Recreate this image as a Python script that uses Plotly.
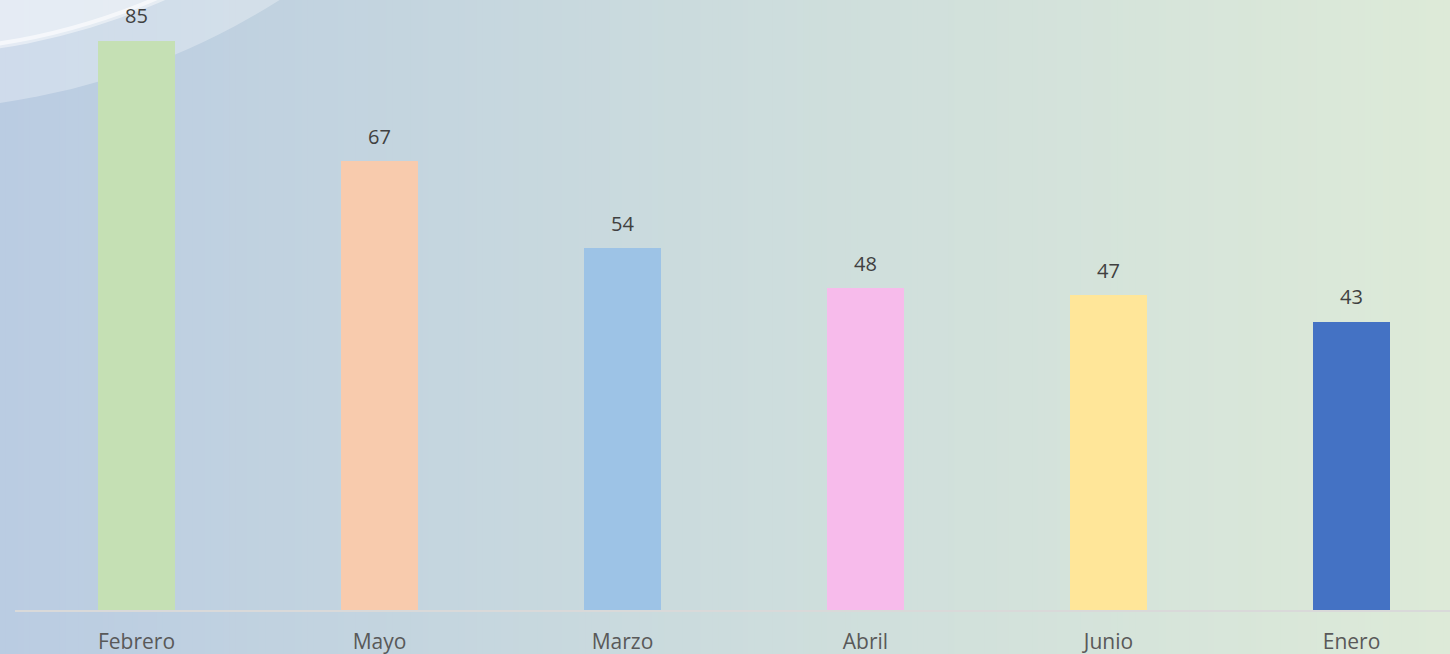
import plotly.graph_objects as go

categories = ["Febrero", "Mayo", "Marzo", "Abril", "Junio", "Enero"]
values = [85, 67, 54, 48, 47, 43]
bar_colors = ["#c5e0b4", "#f8cbad", "#9dc3e6", "#f7bbeb", "#ffe699", "#4472c4"]

W, H = 1450, 654
ML, MR, MT, MB = 15, 0, 7, 44
PW, PH = W - ML - MR, H - MT - MB

def px_to_paper(px, py):
    return (px - ML) / PW, (H - MB - py) / PH

fig = go.Figure()
fig.add_trace(go.Bar(
    x=list(range(len(categories))), y=values,
    marker=dict(color=bar_colors, line=dict(width=0)),
    width=0.317, showlegend=False, hoverinfo="skip",
))

for i, v in enumerate(values):
    fig.add_annotation(x=i, y=v, text=str(v), showarrow=False, yshift=25,
                       font=dict(family="Open Sans", size=20, color="#404040"))

shapes = []
# background gradient stripes
c0 = (186, 204, 226)
c1 = (204, 220, 221)
c2 = (221, 234, 216)
N = 240
for k in range(N):
    t = k / (N - 1)
    if t < 0.5:
        a, b, u = c0, c1, t / 0.5
    else:
        a, b, u = c1, c2, (t - 0.5) / 0.5
    col = tuple(a[j] + (b[j] - a[j]) * u for j in range(3))
    x0p = W * k / N - 0.5
    x1p = W * (k + 1) / N + 0.5
    X0, Y0 = px_to_paper(x0p, H + 2)
    X1, Y1 = px_to_paper(x1p, -2)
    shapes.append(dict(type="rect", xref="paper", yref="paper", x0=X0, x1=X1, y0=Y0, y1=Y1,
                       fillcolor="rgb(%.1f,%.1f,%.1f)" % col, line=dict(width=0), layer="below"))

# swoosh circles
cx, cy = -100, -600
for r, op in [(710, 0.3), (656, 0.45)]:
    X0, Y0 = px_to_paper(cx - r, cy + r)
    X1, Y1 = px_to_paper(cx + r, cy - r)
    shapes.append(dict(type="circle", xref="paper", yref="paper", x0=X0, x1=X1, y0=Y0, y1=Y1,
                       fillcolor="rgba(255,255,255,%s)" % op, line=dict(width=0), layer="below"))
r = 651
X0, Y0 = px_to_paper(cx - r, cy + r)
X1, Y1 = px_to_paper(cx + r, cy - r)
shapes.append(dict(type="circle", xref="paper", yref="paper", x0=X0, x1=X1, y0=Y0, y1=Y1,
                   fillcolor="rgba(0,0,0,0)", line=dict(width=4, color="rgba(255,255,255,0.6)"), layer="below"))

fig.update_layout(
    width=W, height=H,
    margin=dict(l=ML, r=MR, t=MT, b=MB, pad=0),
    paper_bgcolor="rgb(200,216,222)", plot_bgcolor="rgba(0,0,0,0)",
    shapes=shapes,
    xaxis=dict(tickmode="array", tickvals=list(range(len(categories))), ticktext=categories,
               range=[-0.5, -0.5 + PW / 243.0], showgrid=False, zeroline=False,
               showline=True, linecolor="#d9d9d9", linewidth=2, ticks="",
               ticklabelstandoff=12, automargin=False,
               tickfont=dict(family="Open Sans", size=21, color="#595959")),
    yaxis=dict(range=[0, 603 / 6.7], visible=False, showgrid=False, zeroline=False,
               automargin=False),
    bargap=0,
)
fig.write_html("out.html", config={"displayModeBar": False},
               post_script="document.body.style.margin='0';document.body.style.overflow='hidden';")
